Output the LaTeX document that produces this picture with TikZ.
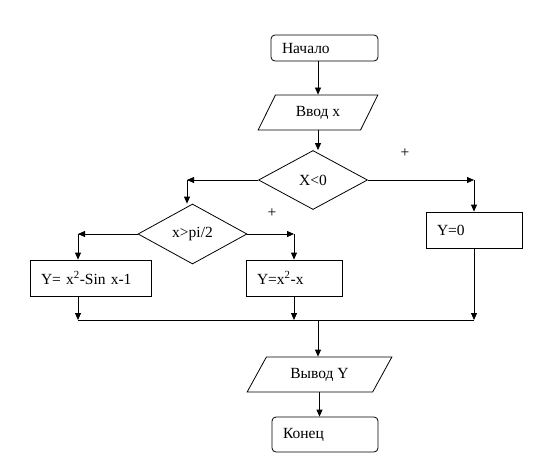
\documentclass[tikz,border=0pt]{standalone}
\usepackage{fontspec}
\setmainfont{Liberation Serif}
\usetikzlibrary{shapes.geometric,arrows.meta}
\begin{document}
\begin{tikzpicture}[x=1pt,y=-1pt,
  every node/.style={font=\fontsize{15.5}{17}\selectfont},
  line/.style={draw, line width=0.8pt},
  arr/.style={line, -{Triangle[length=7pt,width=6pt]}},
  boxbase/.style={draw, line width=0.8pt, inner xsep=11pt, inner ysep=0pt, align=left},
  term/.style={boxbase, rounded corners=4pt},
  procbox/.style={boxbase},
  io/.style={draw, line width=0.8pt, trapezium, trapezium stretches=true, inner sep=0pt},
  decision/.style={draw, line width=0.8pt, diamond, inner sep=0pt},
  plus/.style={inner sep=0pt}
]
\useasboundingbox (0,0) rectangle (556,463);

\node[term, minimum width=107pt, text width=85pt, minimum height=26pt] (start) at (324.5,48) {Начало};
\node[io, trapezium left angle=55.6, trapezium right angle=124.4, minimum width=120pt, minimum height=35pt] (in) at (318,112.5) {Ввод x};
\node[decision, minimum width=109pt, minimum height=59pt] (d1) at (313,180) {X<0};
\node[decision, minimum width=109pt, minimum height=60pt] (d2) at (192.5,234) {x>pi/2};
\node[procbox, minimum width=121pt, text width=99pt, minimum height=36pt] (b1) at (90.5,278) {Y= x\textsuperscript{2}-Sin x-1};
\node[procbox, minimum width=96pt, text width=74pt, minimum height=36pt] (b2) at (294,278) {Y=x\textsuperscript{2}-x};
\node[procbox, minimum width=96pt, text width=74pt, minimum height=36pt] (b3) at (474,230) {Y=0};
\node[io, trapezium left angle=51.3, trapezium right angle=128.7, minimum width=145pt, minimum height=35pt] (out) at (319.5,374.5) {Вывод Y};
\node[term, minimum width=106pt, text width=84pt, minimum height=35pt] (end) at (325,434.5) {Конец};

\node[plus] (p1) at (272,213) {+};
\node[plus] (p2) at (405,153) {+};

\coordinate (cL) at (187,0);
\coordinate (cLL) at (78,0);
\coordinate (m) at (318,320);

\draw[arr] (in.north |- start.south) -- (in.north);
\draw[arr] (in.south) -- (in.south |- d1.north);

\draw[arr] (d1.west) -- (d1.west -| cL);
\draw[arr] (d1.west -| cL) -- (cL |- d2.north);
\draw[arr] (d1.east) -- (d1.east -| b3.north);
\draw[arr] (d1.east -| b3.north) -- (b3.north);

\draw[arr] (d2.west) -- (d2.west -| cLL);
\draw[arr] (d2.west -| cLL) -- (cLL |- b1.north);
\draw[arr] (d2.east) -- (d2.east -| b2.north);
\draw[arr] (d2.east -| b2.north) -- (b2.north);

\draw[arr] (cLL |- b1.south) -- (cLL |- m);
\draw[arr] (b2.south) -- (b2.south |- m);
\draw[arr] (b3.south) -- (b3.south |- m);
\draw[line] (cLL |- m) -- (b3.south |- m);

\draw[arr] (m) -- (m |- out.north);
\draw[arr] (out.south) -- (out.south |- end.north);
\end{tikzpicture}
\end{document}
